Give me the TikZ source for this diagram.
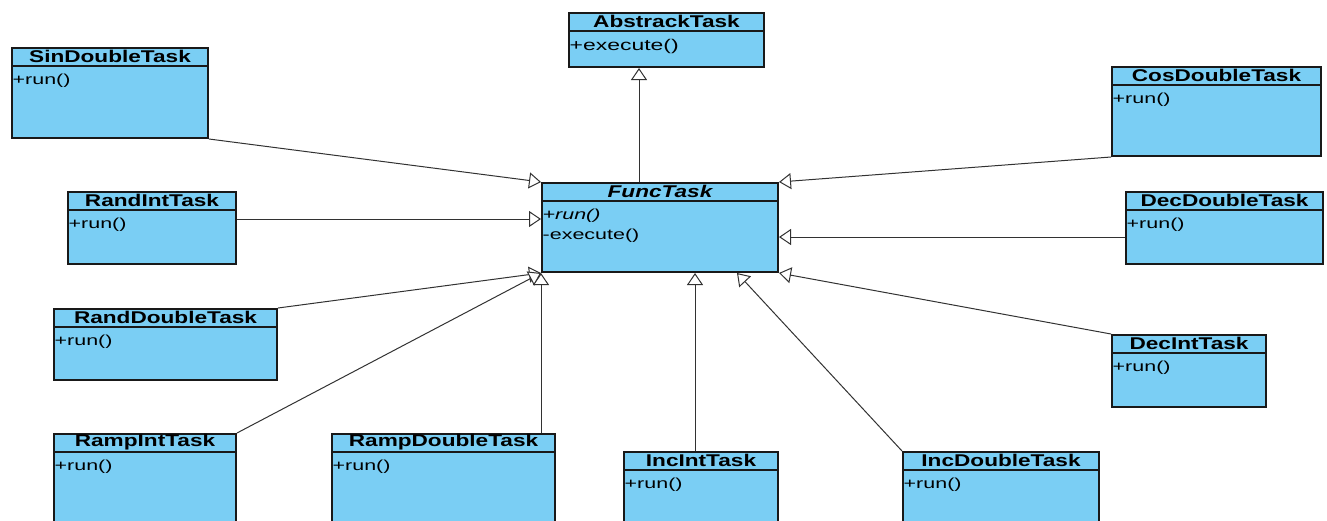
\documentclass[tikz,border=0pt]{standalone}
\usepackage{fontspec}
\setmainfont{Liberation Sans}
\newfontfamily\titlefont[FakeStretch=1.33]{Liberation Sans}
\newfontfamily\opsfont[FakeStretch=1.48]{Liberation Sans}
\usetikzlibrary{arrows.meta}

\definecolor{boxfill}{RGB}{122,206,244}
\definecolor{boxline}{RGB}{25,25,25}
\definecolor{linkline}{RGB}{50,50,50}

\tikzset{
  classbox/.style={draw=boxline, fill=boxfill, line width=2pt, anchor=north west, inner sep=0pt},
  classrule/.style={draw=boxline, line width=1.5pt},
  classtitle/.style={font=\titlefont\bfseries\fontsize{17}{19}\selectfont, inner sep=0pt},
  classops/.style={font=\opsfont\fontsize{14.5}{20}\selectfont, anchor=north west, align=left, inner sep=0pt},
  inherit/.style={draw=linkline, line width=1pt, -{Triangle[length=12pt, width=16pt, fill=white]}}
}

% name, x, y, width, height, title, operations
\newcommand{\umlclass}[7]{%
  \node[classbox, minimum width=#4pt, minimum height=#5pt] (#1) at (#2,#3) {};
  \draw[classrule] ([yshift=-19pt]#1.north west) -- ([yshift=-19pt]#1.north east);
  \node[classtitle] (#1-title) at ([yshift=-9.5pt]#1.north) {#6};
  \node[classops] (#1-ops) at ([xshift=1.5pt,yshift=-27pt]#1.north west) {#7};
}

\begin{document}
\begin{tikzpicture}[x=1pt, y={(0,-1pt)}]
    \useasboundingbox (0,0) rectangle (1327,520);
    \clip (0,0) rectangle (1327,520);
    % classes
    \umlclass{abstrack}{568}{12}{195}{54}{AbstrackTask}{\fontsize{15.5}{20}\selectfont+execute()}
    \umlclass{func}{541}{182}{236}{89}{\itshape FuncTask}{\itshape +run()\\-execute()}
    \umlclass{sin}{11}{47}{196}{90}{SinDoubleTask}{+run()}
    \umlclass{randint}{67}{191}{168}{72}{RandIntTask}{+run()}
    \umlclass{randdouble}{53}{308}{223}{71}{RandDoubleTask}{+run()}
    \umlclass{rampint}{53}{433}{182}{100}{RampIntTask}{+run()}
    \umlclass{rampdouble}{331}{433}{223}{100}{RampDoubleTask}{+run()}
    \umlclass{incint}{623}{451}{154}{80}{IncIntTask}{+run()}
    \umlclass{incdouble}{902}{451}{196}{80}{IncDoubleTask}{+run()}
    \umlclass{decint}{1111}{334}{154}{72}{DecIntTask}{+run()}
    \umlclass{decdouble}{1125}{191}{197}{72}{DecDoubleTask}{+run()}
    \umlclass{cos}{1111}{66}{209}{89}{CosDoubleTask}{+run()}
    % generalisations
    \draw[inherit] ([xshift=-21pt]func.north) -- ([xshift=-21pt]func.north |- abstrack.south);
    \draw[inherit] (sin.south east) -- (func.north west);
    \draw[inherit] ([yshift=9pt]randint.east) -- ([yshift=9pt]randint.east -| func.west);
    \draw[inherit] (randdouble.north east) -- (func.south west);
    \draw[inherit] (rampint.north east) -- (func.south west);
    \draw[inherit] (func.south west |- rampdouble.north) -- (func.south west);
    \draw[inherit] ([xshift=-6pt]incint.north) -- ([xshift=-6pt]incint.north |- func.south);
    \draw[inherit] (incdouble.north west) -- ([xshift=-42pt]func.south east);
    \draw[inherit] (decint.north west) -- (func.south east);
    \draw[inherit] ([yshift=-9pt]decdouble.west) -- ([yshift=-9pt]decdouble.west -| func.east);
    \draw[inherit] (cos.south west) -- (func.north east);
\end{tikzpicture}
\end{document}
